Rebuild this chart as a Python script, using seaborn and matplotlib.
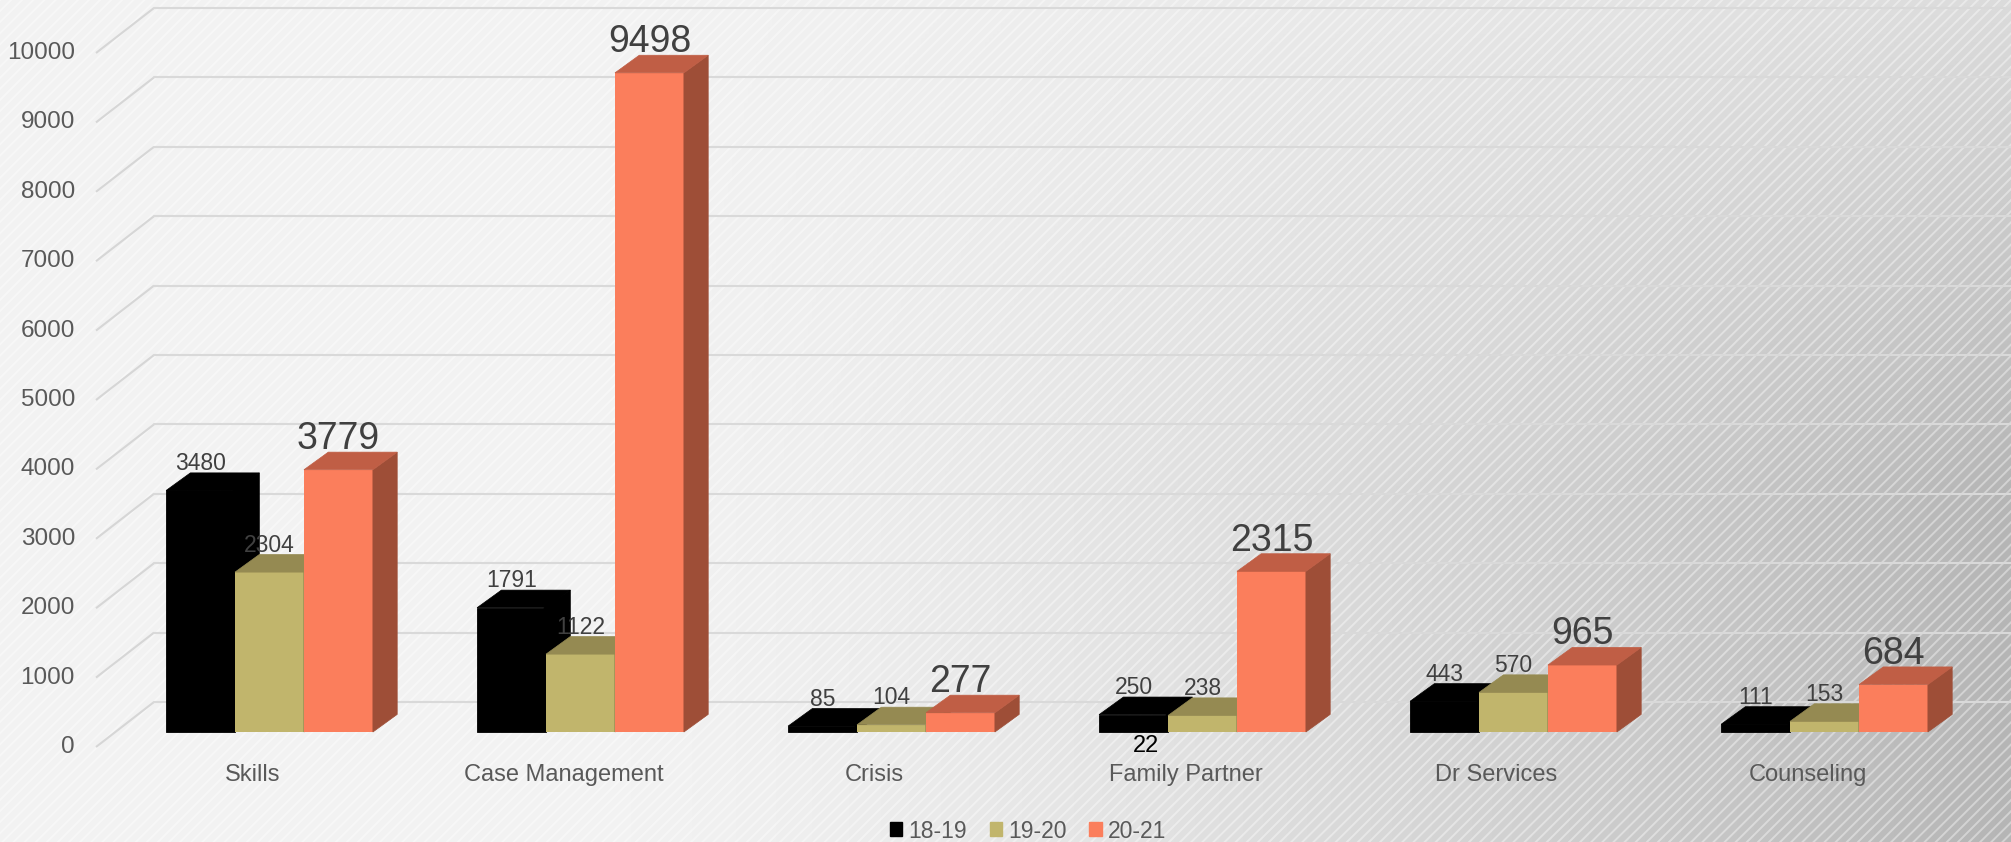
import numpy as np
import pandas as pd
import seaborn as sns
import matplotlib.pyplot as plt
from matplotlib.patches import Polygon, Rectangle, Patch
from matplotlib.transforms import offset_copy

# data
categories = ["Skills", "Case Management", "Crisis", "Family Partner", "Dr Services", "Counseling"]
years = ["18-19", "19-20", "20-21"]
v_1819 = [3480, 1791, 85, 250, 443, 111]
v_1920 = [2304, 1122, 104, 238, 570, 153]
v_2021 = [3779, 9498, 277, 2315, 965, 684]
yticks = list(range(0, 10001, 1000))
stray_label = "22"   # loose text box under the Family Partner 18-19 bar

front_cols = ["#000000", "#C1B56C", "#FB7E5C"]
top_cols = ["#000000", "#958A52", "#C05E45"]
side_cols = ["#000000", "#7A7040", "#9E4E37"]

sns.set_theme(style="white")
plt.rcParams['font.family'] = ['Liberation Sans', 'DejaVu Sans']
plt.rcParams['hatch.linewidth'] = 1.4

W, H = 2011, 842
fig = plt.figure(figsize=(W / 100, H / 100), dpi=100)

# background: grey gradient + fine diagonal stripes
bg = fig.add_axes([0, 0, 1, 1], zorder=0)
xx, yy = np.meshgrid(np.linspace(0, 1, 500), np.linspace(0, 1, 220))
fx = np.clip((xx - 0.3) / 0.7, 0, 1) ** 1.4
g = 0.95 - fx * (0.09 + 0.15 * np.clip(yy * 1.7, 0, 1))
bg.imshow(np.dstack([g, g, g]), extent=(0, 1, 0, 1), aspect='auto', origin='upper')
bg.add_patch(Rectangle((0, 0), 1, 1, facecolor='none', edgecolor=(1, 1, 1, 0.4), hatch='///', lw=0))
bg.set_xlim(0, 1)
bg.set_ylim(0, 1)
bg.set_axis_off()

# main axes
ax = fig.add_axes([0, 0, 1, 1], zorder=1)
ax.patch.set_alpha(0)

df = pd.DataFrame({
    "Service": categories * 3,
    "Year": [y for y in years for _ in categories],
    "Count": v_1819 + v_1920 + v_2021,
})
sns.barplot(data=df, x="Service", y="Count", hue="Year", order=categories, hue_order=years,
            palette=front_cols, saturation=1, width=0.665, errorbar=None, legend=False,
            linewidth=0, ax=ax)

# pixel scale of the layout
PX_X = 311.0     # px per category
PX_Y = 0.0694    # px per unit of value
X0, Y0 = 269.5, 110.0
ax.set_xlim(-X0 / PX_X, (W - X0) / PX_X)
ax.set_ylim(-Y0 / PX_Y, (H - Y0) / PX_Y)
ax.set_axis_off()

DEPTH_X, DEPTH_Y = 24.3, 17.6      # bar depth in px
ddx, ddy = DEPTH_X / PX_X, DEPTH_Y / PX_Y

# walls / gridlines
front_dy, back_dx, back_dy = 15.0, 39.0, 30.0
wall_front_x = (96 - X0) / PX_X
wall_back_x = wall_front_x + (back_dx + 19) / PX_X
for v in yticks:
    ax.plot([wall_front_x, wall_back_x], [v - front_dy / PX_Y, v + back_dy / PX_Y],
            color="#d6d6d6", lw=1.5, zorder=1.2, solid_capstyle='butt')
    ax.plot([wall_back_x, ax.get_xlim()[1]], [v + back_dy / PX_Y] * 2,
            color="#d9d9d9", lw=1.5, zorder=1.2)
    ax.text((75 - X0) / PX_X, v - front_dy / PX_Y, str(v), ha='right', va='center',
            fontsize=17.5, color="#595959")

# 3D faces on top of seaborn bars
bars = sorted(ax.patches, key=lambda p: p.get_x())
for k, p in enumerate(bars):
    fc = np.array(p.get_facecolor()[:3])
    idx = int(np.argmin([np.sum((fc - np.array(plt.matplotlib.colors.to_rgb(c))) ** 2) for c in front_cols]))
    x, w, h = p.get_x(), p.get_width(), p.get_height()
    z = 2 + k * 0.01
    p.set_zorder(z)
    overlap = 0.0
    if idx == 0:
        p.set_edgecolor("#000000")
        p.set_linewidth(0.6)
        overlap = 2 / PX_X
    side = Polygon([(x + w - overlap, 0), (x + w + ddx, ddy), (x + w + ddx, h + ddy), (x + w - overlap, h)],
                   closed=True, fc=side_cols[idx], ec=side_cols[idx], lw=0.5, zorder=z)
    top = Polygon([(x, h), (x + w, h), (x + w + ddx, h + ddy), (x + ddx, h + ddy)],
                  closed=True, fc=top_cols[idx], ec=top_cols[idx], lw=0.5, zorder=z)
    ax.add_patch(side)
    ax.add_patch(top)
    big = idx == 2
    ax.text(x + w / 2, h, f"{int(round(h))}",
            transform=offset_copy(ax.transData, fig=fig, x=0, y=DEPTH_Y + 3, units='dots'),
            ha='center', va='baseline', fontsize=27 if big else 16.5, color="#404040", zorder=10)

# stray "22" under Family Partner 18-19
fp = categories.index("Family Partner")
fp_bar = [p for p in bars if abs(p.get_x() + p.get_width() * 1.5 - fp) < 0.05][0]
ax.text(fp_bar.get_x() + fp_bar.get_width() / 2 + 12 / PX_X, -20 / PX_Y, stray_label,
        ha='center', va='baseline', fontsize=17, color="black", zorder=10)

# category labels (front plane)
for i, c in enumerate(categories):
    ax.text(i - 17 / PX_X, -43 / PX_Y, c, ha='center', va='center', fontsize=17, color="#595959")

handles = [Patch(color=c) for c in front_cols]
fig.legend(handles=handles, labels=years, loc='center', bbox_to_anchor=(1028 / W, 11 / H),
           ncol=3, frameon=False, fontsize=16.5, handlelength=0.55, handleheight=0.55,
           handletextpad=0.25, columnspacing=1.0, labelcolor="#595959", borderpad=0)

fig.savefig("out.png", dpi=100)
